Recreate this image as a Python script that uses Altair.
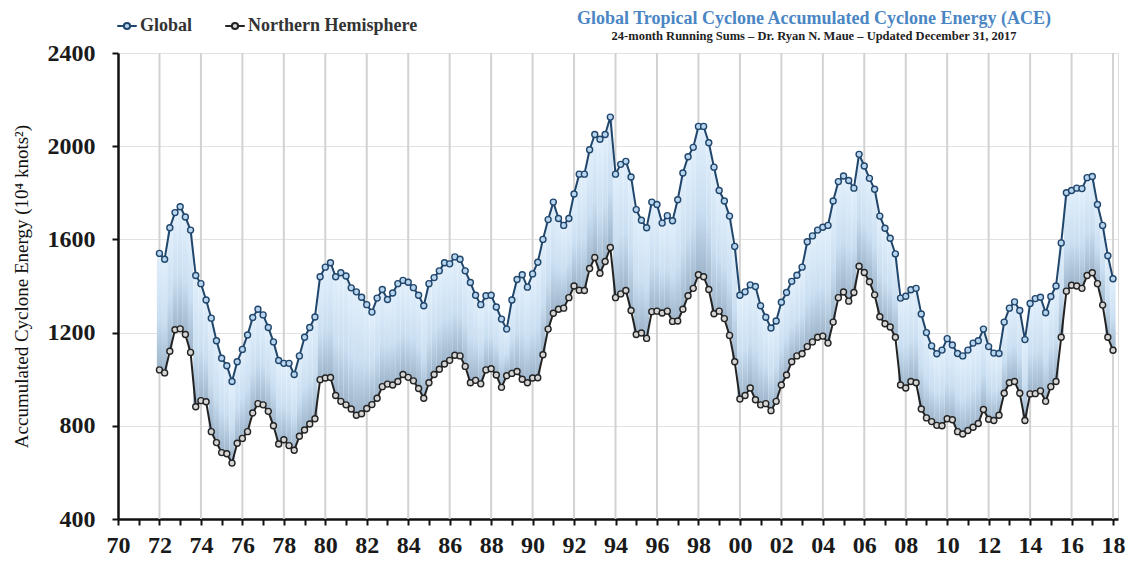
import altair as alt
import pandas as pd

# ---- data (24-month running sums) ----
start_year = 1972
step = 0.25

global_ace = [
    1540, 1515, 1650, 1715,   # 1972
    1740, 1696, 1640, 1445,   # 1973
    1410, 1340, 1262, 1165,   # 1974
    1090, 1058, 990, 1075,    # 1975
    1128, 1190, 1265, 1300,   # 1976
    1276, 1222, 1160, 1080,   # 1977
    1068, 1068, 1020, 1100,   # 1978
    1180, 1222, 1267, 1440,   # 1979
    1481, 1500, 1440, 1457,   # 1980
    1443, 1392, 1375, 1352,   # 1981
    1320, 1288, 1348, 1385,   # 1982
    1342, 1370, 1410, 1424,   # 1983
    1416, 1393, 1360, 1315,   # 1984
    1410, 1436, 1465, 1500,   # 1985
    1495, 1525, 1515, 1465,   # 1986
    1415, 1360, 1320, 1358,   # 1987
    1360, 1310, 1258, 1215,   # 1988
    1340, 1428, 1448, 1395,   # 1989
    1452, 1502, 1600, 1685,   # 1990
    1760, 1690, 1660, 1690,   # 1991
    1795, 1880, 1880, 1985,   # 1992
    2050, 2030, 2050, 2125,   # 1993
    1880, 1922, 1935, 1868,   # 1994
    1728, 1682, 1650, 1760,   # 1995
    1750, 1670, 1702, 1680,   # 1996
    1770, 1885, 1955, 1995,   # 1997
    2085, 2085, 2015, 1910,   # 1998
    1810, 1765, 1700, 1570,   # 1999
    1360, 1375, 1405, 1398,   # 2000
    1315, 1266, 1220, 1250,   # 2001
    1330, 1372, 1420, 1446,   # 2002
    1481, 1590, 1615, 1640,   # 2003
    1652, 1660, 1765, 1848,   # 2004
    1872, 1853, 1820, 1965,   # 2005
    1915, 1862, 1815, 1700,   # 2006
    1648, 1605, 1538, 1348,   # 2007
    1356, 1384, 1390, 1280,   # 2008
    1200, 1143, 1109, 1125,   # 2009
    1174, 1147, 1110, 1100,   # 2010
    1125, 1155, 1165, 1215,   # 2011
    1140, 1112, 1110, 1245,   # 2012
    1305, 1332, 1295, 1170,   # 2013
    1325, 1346, 1352, 1285,   # 2014
    1355, 1400, 1585, 1800,   # 2015
    1810, 1820, 1818, 1865,   # 2016
    1870, 1750, 1660, 1530,   # 2017
    1431,                     # 2018
]

nh_ace = [
    1040, 1027, 1120, 1212,   # 1972
    1216, 1192, 1115, 882,    # 1973
    908, 903, 775, 728,       # 1974
    685, 680, 640, 725,       # 1975
    746, 775, 855, 895,       # 1976
    890, 862, 800, 722,       # 1977
    740, 715, 695, 755,       # 1978
    782, 808, 830, 998,       # 1979
    1005, 1007, 930, 905,     # 1980
    890, 872, 845, 852,       # 1981
    874, 891, 918, 968,       # 1982
    979, 975, 990, 1020,      # 1983
    1008, 993, 960, 918,      # 1984
    985, 1020, 1043, 1065,    # 1985
    1081, 1103, 1100, 1055,   # 1986
    985, 995, 980, 1040,      # 1987
    1045, 1018, 965, 1015,    # 1988
    1025, 1033, 1000, 985,    # 1989
    1005, 1006, 1105, 1215,   # 1990
    1283, 1300, 1305, 1350,   # 1991
    1400, 1382, 1381, 1475,   # 1992
    1522, 1455, 1505, 1565,   # 1993
    1350, 1366, 1381, 1295,   # 1994
    1192, 1198, 1175, 1290,   # 1995
    1292, 1284, 1292, 1248,   # 1996
    1250, 1300, 1358, 1390,   # 1997
    1448, 1440, 1385, 1281,   # 1998
    1292, 1260, 1188, 1075,   # 1999
    915, 930, 962, 912,       # 2000
    890, 895, 865, 905,       # 2001
    975, 1018, 1075, 1100,    # 2002
    1109, 1140, 1160, 1180,   # 2003
    1185, 1155, 1245, 1350,   # 2004
    1374, 1335, 1372, 1485,   # 2005
    1458, 1418, 1362, 1268,   # 2006
    1238, 1224, 1180, 975,    # 2007
    962, 990, 985, 872,       # 2008
    834, 818, 802, 800,       # 2009
    830, 826, 775, 765,       # 2010
    780, 794, 810, 870,       # 2011
    828, 823, 845, 940,       # 2012
    985, 990, 940, 823,       # 2013
    937, 938, 950, 905,       # 2014
    968, 990, 1180, 1378,     # 2015
    1403, 1400, 1390, 1445,   # 2016
    1457, 1410, 1318, 1180,   # 2017
    1124,                     # 2018
]

series_names = ["Global", "Northern Hemisphere"]
grid_years = list(range(1972, 2019, 2))
tick_years = list(range(1970, 2019))
y_ticks = [400, 800, 1200, 1600, 2000, 2400]

title_text = "Global Tropical Cyclone Accumulated Cyclone Energy (ACE)"
subtitle_text = "24-month Running Sums \u2013 Dr. Ryan N. Maue \u2013 Updated December 31, 2017"
y_title = "Accumulated Cyclone Energy (10\u2074 knots\u00b2)"

# ---- frames ----
n = len(global_ace)
years = [start_year + i * step for i in range(n)]
wide = pd.DataFrame({"t": years, "glob": global_ace, "nh": nh_ace})
wide["t0"] = wide["t"] - step / 2
wide["t1"] = wide["t"] + step / 2
long = pd.concat([
    pd.DataFrame({"t": years, "ace": global_ace, "series": series_names[0]}),
    pd.DataFrame({"t": years, "ace": nh_ace, "series": series_names[1]}),
])
grid_df = pd.DataFrame({"yr": grid_years})

SERIF = "Liberation Serif"

xscale = alt.Scale(domain=[1970, 2018.24], nice=False, zero=False)
yscale = alt.Scale(domain=[400, 2400], nice=False, zero=False)

xaxis = alt.Axis(
    values=tick_years,
    labelExpr="datum.value % 2 == 0 ? slice(toString(datum.value), 2) : ''",
    grid=False, title=None, labelOverlap=False, labelFlush=False,
    tickSize=6, tickWidth=2, tickColor="#111111",
    domainColor="#111111", domainWidth=2.5,
    labelFont=SERIF, labelFontSize=24, labelFontWeight="bold",
    labelColor="#1a1a1a", labelPadding=8,
)
yaxis = alt.Axis(
    values=y_ticks, format="d", grid=True, gridColor="#e2e2e2", gridWidth=1,
    tickSize=6, tickWidth=2, tickColor="#111111",
    domainColor="#111111", domainWidth=2.5,
    labelFont=SERIF, labelFontSize=24, labelFontWeight="bold",
    labelColor="#1a1a1a", labelPadding=17,
    title=y_title, titleFont=SERIF, titleFontSize=19,
    titleFontWeight="normal", titleColor="#111111", titlePadding=16,
)

stroke_scale = alt.Scale(domain=series_names, range=["#21466b", "#232323"])
fill_scale = alt.Scale(domain=series_names, range=["#b9d6f0", "#d6d6d6"])

legend = alt.Legend(
    title=None, orient="none", legendX=-2, legendY=-38,
    direction="horizontal", labelLimit=0,
    symbolType="M-1,0H-0.32M0.32,0H1M0.32,0A0.32,0.32,0,1,1,-0.32,0A0.32,0.32,0,1,1,0.32,0Z",
    symbolSize=380, symbolStrokeWidth=2,
    labelFont=SERIF, labelFontSize=18, labelFontWeight="bold",
    labelColor="#333333", columnPadding=28, labelOffset=2,
)

grid_layer = alt.Chart(grid_df).mark_rule(color="#d2d2d2", strokeWidth=2).encode(
    x=alt.X("yr:Q", scale=xscale, axis=xaxis)
)

gradient = alt.Gradient(
    gradient="linear",
    stops=[
        alt.GradientStop(color="#e2effb", offset=0),
        alt.GradientStop(color="#cadff2", offset=0.55),
        alt.GradientStop(color="#9db4ca", offset=1),
    ],
    x1=0, x2=0, y1=0, y2=1,
)

fill_layer = alt.Chart(wide).mark_bar(color=gradient).encode(
    x=alt.X("t0:Q", scale=xscale, axis=xaxis),
    x2="t1:Q",
    y=alt.Y("glob:Q", scale=yscale, axis=yaxis),
    y2="nh:Q",
)

line_layer = alt.Chart(long).mark_line(strokeWidth=2).encode(
    x=alt.X("t:Q", scale=xscale, axis=xaxis),
    y=alt.Y("ace:Q", scale=yscale, axis=yaxis),
    stroke=alt.Stroke("series:N", scale=stroke_scale, legend=legend),
    detail="series:N",
)

point_layer = alt.Chart(long).mark_point(
    filled=True, shape="circle", size=36, strokeWidth=1.4, opacity=1
).encode(
    x=alt.X("t:Q", scale=xscale, axis=xaxis),
    y=alt.Y("ace:Q", scale=yscale, axis=yaxis),
    stroke=alt.Stroke("series:N", scale=stroke_scale, legend=legend),
    fill=alt.Fill("series:N", scale=fill_scale, legend=legend),
)

chart = alt.layer(grid_layer, fill_layer, line_layer, point_layer).properties(
    width=1000,
    height=466,
    padding={"left": 110, "top": 45, "right": 7, "bottom": 42},
    autosize=alt.AutoSizeParams(type="none"),
    title=alt.TitleParams(
        text=title_text, subtitle=subtitle_text,
        anchor="middle", dx=196, dy=33, offset=6,
        font=SERIF, fontSize=18, fontWeight="bold", color="#4a86c4",
        subtitleFont=SERIF, subtitleFontSize=12.5, subtitleFontWeight="bold",
        subtitleColor="#222222", subtitlePadding=2,
    ),
).configure_view(stroke=None).configure(background="white")

chart.save("out.html", embed_options={"renderer": "svg", "actions": False})
